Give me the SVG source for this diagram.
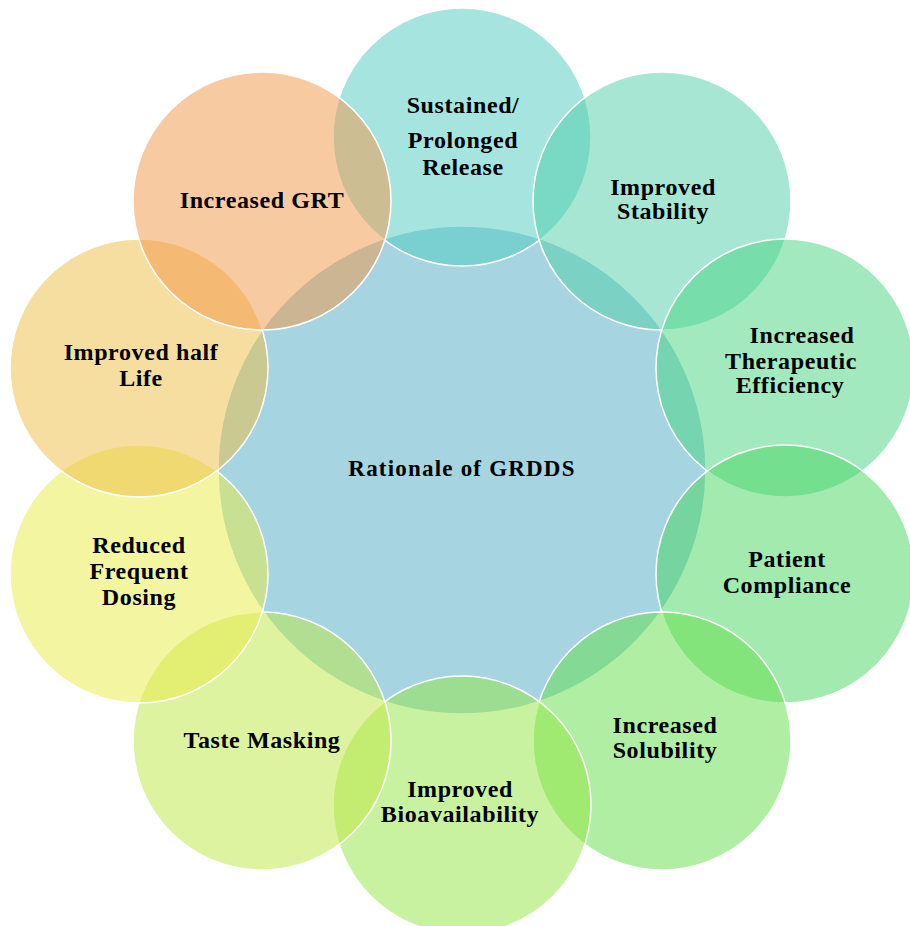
<svg xmlns="http://www.w3.org/2000/svg" width="910" height="926" viewBox="0 0 910 926">
<style>
.c{stroke:#ffffff;stroke-width:1.5;}
.o{fill-opacity:0.5;}
.t{font-family:"Liberation Serif","Times New Roman",serif;font-weight:bold;font-size:24px;letter-spacing:0.6px;fill:#000;text-anchor:middle;}
.tc{font-size:23px;letter-spacing:1.2px;}
</style>
<rect width="910" height="926" fill="#ffffff"/>
<g id="center">
<circle class="c" cx="462" cy="470" r="244" fill="#a6d4e0"/>
<text class="t tc" x="462" y="476">Rationale of GRDDS</text>
</g>
<g id="sustained">
<circle class="c o" cx="462" cy="137" r="129" fill="#4dc9c1"/>
<text class="t" x="463" y="113">Sustained/</text>
<text class="t" x="463" y="148">Prolonged</text>
<text class="t" x="463" y="175">Release</text>
</g>
<g id="stability">
<circle class="c o" cx="662" cy="201" r="129" fill="#4dcda7"/>
<text class="t" x="663" y="195">Improved</text>
<text class="t" x="663" y="219">Stability</text>
</g>
<g id="therapeutic">
<circle class="c o" cx="785" cy="368" r="129" fill="#47d381"/>
<text class="t" x="802" y="343">Increased</text>
<text class="t" x="791" y="369">Therapeutic</text>
<text class="t" x="790" y="393">Efficiency</text>
</g>
<g id="patient">
<circle class="c o" cx="785" cy="574" r="129" fill="#45d55d"/>
<text class="t" x="787" y="567">Patient</text>
<text class="t" x="787" y="593">Compliance</text>
</g>
<g id="solubility">
<circle class="c o" cx="662" cy="741" r="129" fill="#61dd47"/>
<text class="t" x="665" y="733">Increased</text>
<text class="t" x="665" y="758">Solubility</text>
</g>
<g id="bioavailability">
<circle class="c o" cx="462" cy="805" r="129" fill="#91e541"/>
<text class="t" x="460" y="797">Improved</text>
<text class="t" x="460" y="822">Bioavailability</text>
</g>
<g id="taste">
<circle class="c o" cx="262" cy="741" r="129" fill="#bde741"/>
<text class="t" x="262" y="748">Taste Masking</text>
</g>
<g id="reduced">
<circle class="c o" cx="139" cy="574" r="129" fill="#e7eb43"/>
<text class="t" x="139" y="553">Reduced</text>
<text class="t" x="139" y="579">Frequent</text>
<text class="t" x="139" y="605">Dosing</text>
</g>
<g id="halflife">
<circle class="c o" cx="139" cy="368" r="129" fill="#edbd41"/>
<text class="t" x="141" y="360">Improved half</text>
<text class="t" x="141" y="386">Life</text>
</g>
<g id="grt">
<circle class="c o" cx="262" cy="201" r="129" fill="#f19545"/>
<text class="t" x="262" y="208">Increased GRT</text>
</g>
</svg>
